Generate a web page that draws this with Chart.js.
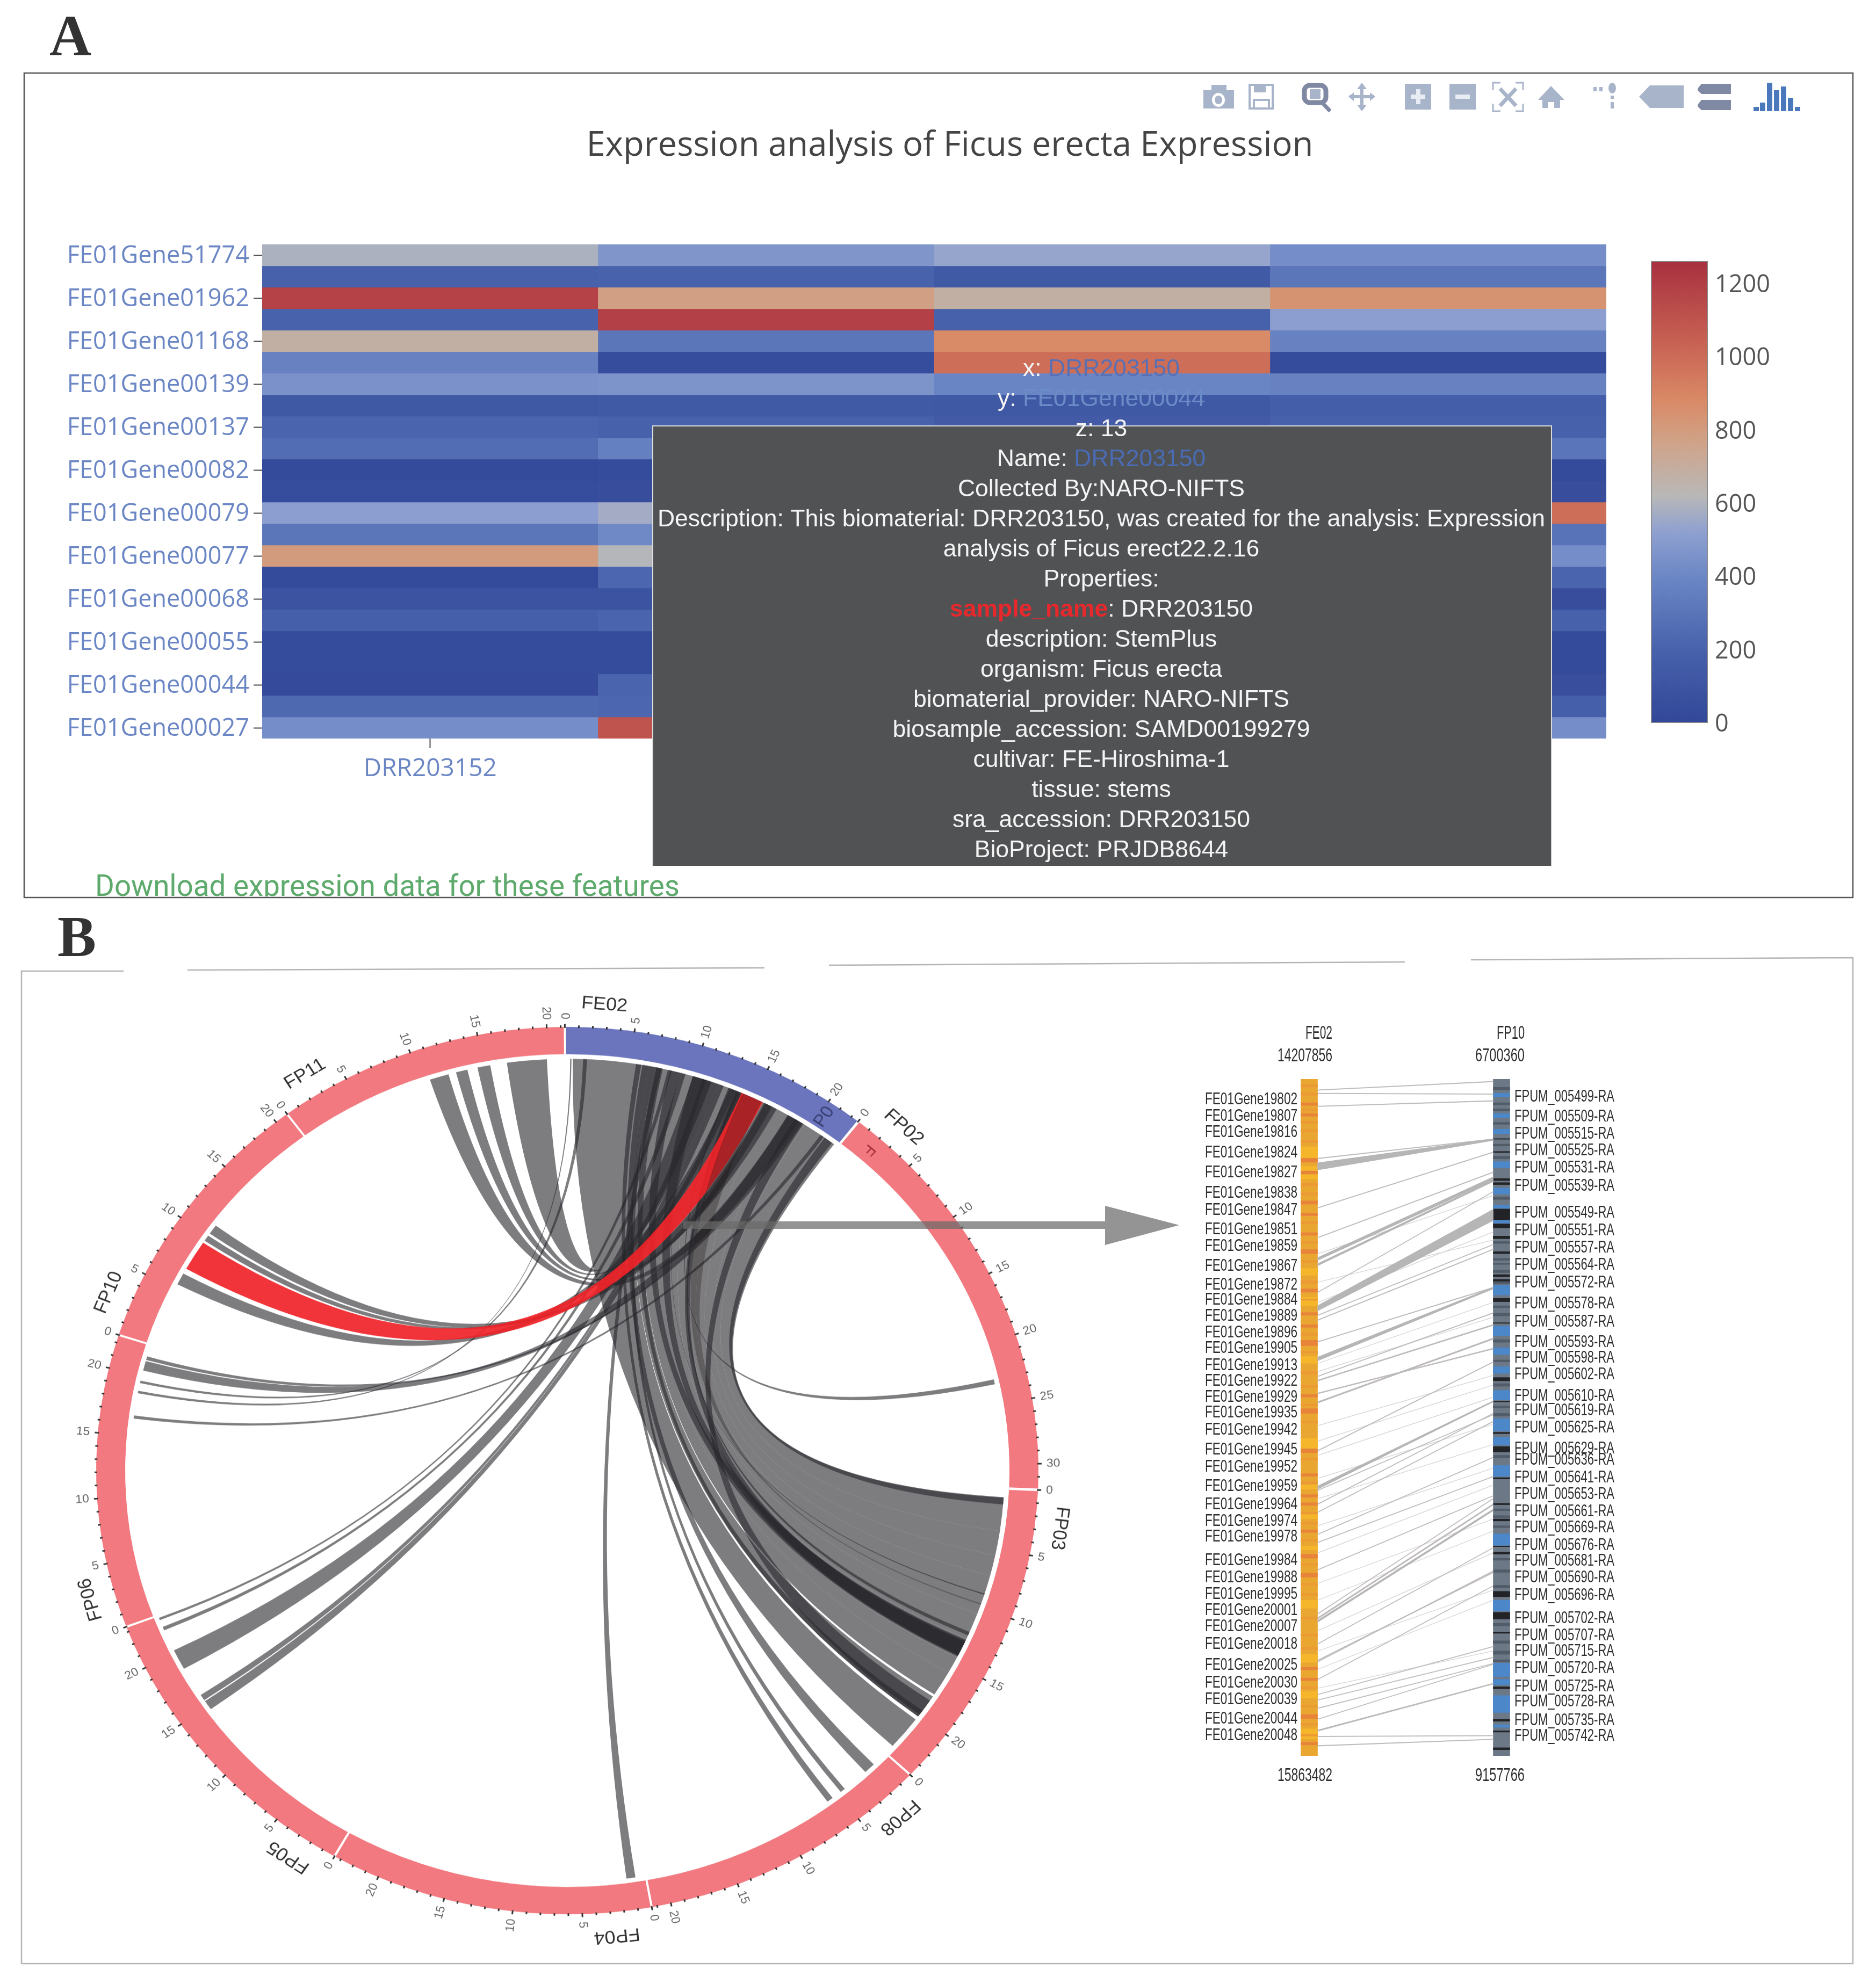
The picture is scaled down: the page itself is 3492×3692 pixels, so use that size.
<!DOCTYPE html>
<html><head><meta charset="utf-8">
<script src="https://cdn.jsdelivr.net/npm/chart.js@4/dist/chart.umd.min.js"></script>
<style>
html,body{margin:0;padding:0;background:#fff}
#page{position:relative;width:3492px;height:3692px;background:#fff;overflow:hidden}
canvas,svg{position:absolute}
.let{position:absolute;font:bold 108px "Liberation Serif";color:#333;line-height:1}
</style></head><body><div id="page">
<div class="let" style="left:92px;top:13px">A</div>
<div class="let" style="left:107px;top:1690px">B</div>
<canvas id="heat" width="3492" height="1700" style="left:0;top:0"></canvas>
<canvas id="cbar" width="460" height="960" style="left:2988px;top:440px"></canvas>
<canvas id="circos" width="2100" height="2100" style="left:6px;top:1688px;transform:scaleY(0.942);transform-origin:center"></canvas>
<canvas id="syn" width="1000" height="1480" style="left:2100px;top:1880px"></canvas>
<svg width="3492" height="3692" style="left:0;top:0;pointer-events:none">
<g stroke="#b4b4b4" stroke-width="2.5" fill="none">
<path d="M40 3656V1808H230"/><path d="M349 1806L1423 1802"/><path d="M1543 1797L2615 1791"/><path d="M2738 1787L3449 1783V3656H40"/></g>
<rect x="1272" y="2274" width="785" height="14" fill="rgb(105,105,105)" fill-opacity="0.72"/>
<polygon points="2057,2245 2195,2281 2057,2318" fill="#949494"/></svg>
</div>
<script>
/* ---------- Panel A : heat map ---------- */
const sampleNames=['DRR203152','DRR203151','DRR203150','DRR203149'];
const geneLabels=['FE01Gene51774','FE01Gene01962','FE01Gene01168','FE01Gene00139','FE01Gene00137','FE01Gene00082','FE01Gene00079','FE01Gene00077','FE01Gene00068','FE01Gene00055','FE01Gene00044','FE01Gene00027'];
const exprDRR203152=[590,190,1180,200,680,370,450,130,210,260,20,40,510,310,800,20,90,180,30,30,25,240,430];
const exprDRR203151=[470,200,780,1190,310,40,460,140,190,360,30,50,570,410,610,220,90,210,30,30,210,220,1100];
const exprDRR203150=[540,140,680,190,880,990,390,130,150,200,40,60,500,300,600,220,100,200,40,30,13,200,900];
const exprDRR203149=[430,310,840,510,370,30,370,170,190,300,20,50,990,290,430,210,50,190,20,20,60,180,430];
const colorStopsV=[0,200,400,520,620,760,880,1030,1262];
const colorStopsC=[[50,71,152],[72,98,172],[108,135,197],[142,160,208],[184,184,184],[207,164,138],[217,138,102],[201,100,84],[168,48,63]];
const colorbarTicks=[0,200,400,600,800,1000,1200];
const tooltipLines=['Collected By:NARO-NIFTS','Description: This biomaterial: DRR203150, was created for the analysis: Expression','analysis of Ficus erect22.2.16','Properties:'];
const tooltipProps=['description: StemPlus','organism: Ficus erecta','biomaterial_provider: NARO-NIFTS','biosample_accession: SAMD00199279','cultivar: FE-Hiroshima-1','tissue: stems','sra_accession: DRR203150','BioProject: PRJDB8644'];
function rgb(a){return 'rgb('+a.map(v=>Math.round(v)).join(',')+')'}
function heatColor(v){
  for(let i=1;i<colorStopsV.length;i++){ if(v<=colorStopsV[i]){const f=(v-colorStopsV[i-1])/(colorStopsV[i]-colorStopsV[i-1]);
    return rgb(colorStopsC[i].map((c,k)=>colorStopsC[i-1][k]+(c-colorStopsC[i-1][k])*f));}}
  return rgb(colorStopsC[colorStopsC.length-1]);
}
const sansF='"Open Sans"';
function segText(ctx,segs,cx,y,font){
  ctx.font=font;ctx.textAlign='left';ctx.textBaseline='middle';
  let w=0;segs.forEach(s=>w+=ctx.measureText(s[0]).width);let x=cx-w/2;
  segs.forEach(s=>{ctx.fillStyle=s[1];ctx.fillText(s[0],x,y);x+=ctx.measureText(s[0]).width;});
}
function icons(ctx){
  const c='#a8b4ca',d='#7f89a4';
  ctx.save();
  const R=(x,y,w,h,col)=>{ctx.fillStyle=col||c;ctx.fillRect(x,y,w,h)};
  R(2240,168,57,34);R(2255,158,28,12);ctx.fillStyle='#fff';ctx.beginPath();ctx.ellipse(2268,186,12,13,0,0,7);ctx.fill();ctx.fillStyle=c;ctx.beginPath();ctx.ellipse(2268,186,7,8,0,0,7);ctx.fill();
  ctx.strokeStyle=c;ctx.lineWidth=4;ctx.strokeRect(2326,158,43,44);R(2334,158,22,14);ctx.strokeRect(2334,186,28,16);
  ctx.strokeStyle=d;ctx.lineWidth=9;ctx.beginPath();ctx.roundRect(2428,159,40,32,10);ctx.stroke();R(2438,166,20,18,c);ctx.lineWidth=7;ctx.beginPath();ctx.moveTo(2462,192);ctx.lineTo(2476,207);ctx.stroke();
  ctx.strokeStyle=c;ctx.lineWidth=6;ctx.beginPath();ctx.moveTo(2535,158);ctx.lineTo(2535,204);ctx.moveTo(2512,180);ctx.lineTo(2558,180);ctx.stroke();
  ctx.fillStyle=c;[[2535,154,2526,166,2544,166],[2535,207,2526,195,2544,195],[2510,180,2520,172,2520,188],[2560,180,2550,172,2550,188]].forEach(p=>{ctx.beginPath();ctx.moveTo(p[0],p[1]);ctx.lineTo(p[2],p[3]);ctx.lineTo(p[4],p[5]);ctx.fill();});
  R(2615,156,49,48);R(2626,176,27,8,'#e8ecf3');R(2636,166,8,28,'#e8ecf3');
  R(2698,156,49,48);R(2709,176,27,8,'#e8ecf3');
  ctx.strokeStyle=c;ctx.lineWidth=3;[[2779,154,1,1],[2835,154,-1,1],[2779,207,1,-1],[2835,207,-1,-1]].forEach(p=>{ctx.beginPath();ctx.moveTo(p[0],p[1]+p[3]*14);ctx.lineTo(p[0],p[1]);ctx.lineTo(p[0]+p[2]*14,p[1]);ctx.stroke();});
  ctx.lineWidth=7;ctx.beginPath();ctx.moveTo(2792,165);ctx.lineTo(2822,197);ctx.moveTo(2822,165);ctx.lineTo(2792,197);ctx.stroke();
  ctx.fillStyle=c;ctx.beginPath();ctx.moveTo(2887,160);ctx.lineTo(2912,186);ctx.lineTo(2904,186);ctx.lineTo(2904,201);ctx.lineTo(2893,201);ctx.lineTo(2893,190);ctx.lineTo(2881,190);ctx.lineTo(2881,201);ctx.lineTo(2871,201);ctx.lineTo(2871,186);ctx.lineTo(2863,186);ctx.closePath();ctx.fill();
  R(2966,162,6,8);R(2977,162,6,8);ctx.beginPath();ctx.ellipse(3001,164,7,10,0,0,7);ctx.fill();R(2998,178,6,6);R(2998,190,6,12);
  ctx.beginPath();ctx.moveTo(3051,180);ctx.lineTo(3071,159);ctx.lineTo(3134,159);ctx.lineTo(3134,201);ctx.lineTo(3071,201);ctx.closePath();ctx.fill();
  ctx.fillStyle=d;[156,186].forEach(y=>{ctx.beginPath();ctx.moveTo(3160,y+9);ctx.lineTo(3167,y);ctx.lineTo(3222,y);ctx.lineTo(3222,y+19);ctx.lineTo(3167,y+19);ctx.lineTo(3160,y+12);ctx.closePath();ctx.fill();});
  const logo=[[3264,199],[3276,191],[3289,154],[3302,168],[3315,161],[3328,182],[3341,199]];
  ctx.fillStyle='#4a78bd';logo.forEach(l=>ctx.fillRect(l[0],l[1],10,207-l[1]));
  ctx.restore();
}
const panelA={id:'panelA',afterDraw(ch){
  const ctx=ch.ctx;ctx.save();
  ctx.font='63.4px '+sansF;ctx.textAlign='center';ctx.textBaseline='middle';
  ctx.fillStyle='#444';ctx.fillText('Expression analysis of Ficus erecta Expression',1768,272);
  icons(ctx);
  const fs='44.5px "Liberation Sans"',fb='bold 44.5px "Liberation Sans"',blue='#4a6cb4',w='#f4f4f4';
  ctx.fillStyle='#515254';ctx.fillRect(1215,793,1673,819);
  ctx.strokeStyle='#d8dbe0';ctx.lineWidth=2;ctx.beginPath();ctx.moveTo(1215,1612);ctx.lineTo(1215,793);ctx.lineTo(2888,793);ctx.lineTo(2888,1612);ctx.stroke();
  const cx=2050,dy=56;let y=688;
  segText(ctx,[['x: ',w],[sampleNames[2],'#5a70b4']],cx,y,fs);y+=dy;
  segText(ctx,[['y: ',w],[geneLabels[10],'#6c8cc8']],cx,y,fs);y+=dy;
  segText(ctx,[['z: 13',w]],cx,y,fs);y+=dy;
  segText(ctx,[['Name: ',w],[sampleNames[2],blue]],cx,y,fs);y+=dy;
  tooltipLines.forEach(t=>{segText(ctx,[[t,w]],cx,y,fs);y+=dy;});
  ctx.font=fb;const bw=ctx.measureText('sample_name').width;ctx.font=fs;const rw=ctx.measureText(': DRR203150').width;
  let sx=cx-(bw+rw)/2;ctx.textAlign='left';ctx.font=fb;ctx.fillStyle='#e8282c';ctx.fillText('sample_name',sx,y);ctx.font=fs;ctx.fillStyle=w;ctx.fillText(': DRR203150',sx+bw,y);y+=dy;
  tooltipProps.forEach(t=>{segText(ctx,[[t,w]],cx,y,fs);y+=dy;});
  ctx.save();ctx.beginPath();ctx.rect(46,1600,3400,69);ctx.clip();
  ctx.fillStyle='#5eaa6c';ctx.font='54.7px Roboto';ctx.textAlign='left';ctx.textBaseline='middle';ctx.fillText('Download expression data for these features',177,1654);ctx.restore();
  ctx.strokeStyle='#555';ctx.lineWidth=2.5;ctx.strokeRect(45,136,3404,1535);
  ctx.restore();
}};
const rowCount=exprDRR203152.length;
const heatSets=[];
for(let r=0;r<rowCount;r++){
  heatSets.push({data:[1,1,1,1],backgroundColor:[exprDRR203152,exprDRR203151,exprDRR203150,exprDRR203149].map(c=>heatColor(c[r])),borderWidth:0,barPercentage:1,categoryPercentage:1});
}
new Chart(document.getElementById('heat'),{type:'bar',plugins:[panelA],
 data:{labels:sampleNames,datasets:heatSets},
 options:{responsive:false,animation:false,devicePixelRatio:1,
  layout:{padding:{top:455,right:502,left:0,bottom:0}},
  plugins:{legend:{display:false},tooltip:{enabled:false}},
  scales:{
   x:{stacked:true,afterFit:s=>{s.height=325},grid:{display:true,offset:false,drawOnChartArea:false,tickLength:18,tickColor:'#444',tickWidth:2},border:{display:false},
      ticks:{color:'#6b86c4',font:{family:'Open Sans',size:46},padding:11,maxRotation:0}},
   y:{stacked:true,reverse:true,min:0,max:rowCount,afterFit:s=>{s.width=488},
      afterBuildTicks:s=>{s.ticks=geneLabels.map((g,i)=>({value:i*2+0.5}))},
      grid:{display:true,drawOnChartArea:false,tickLength:16,tickColor:'#444',tickWidth:2},border:{display:false},
      ticks:{autoSkip:false,color:'#6b86c4',font:{family:'Open Sans',size:45},padding:8,labelOffset:2,callback:v=>geneLabels[(v-0.5)/2]}}
  }}});
/* ---------- colour bar ---------- */
new Chart(document.getElementById('cbar'),{type:'bar',
 data:{labels:['z'],datasets:[{data:[1262],barPercentage:1,categoryPercentage:1,borderWidth:2,borderColor:'#8a8a8a',borderSkipped:false,
   backgroundColor:c=>{const a=c.chart.chartArea;if(!a)return '#888';const g=c.chart.ctx.createLinearGradient(0,a.bottom,0,a.top);colorStopsV.forEach((v,i)=>g.addColorStop(v/1262,rgb(colorStopsC[i])));return g;}}]},
 options:{responsive:false,animation:false,devicePixelRatio:1,
  layout:{padding:{left:85,top:46,bottom:54,right:0}},
  plugins:{legend:{display:false},tooltip:{enabled:false}},
  scales:{x:{display:false},
   y:{position:'right',min:0,max:1262,afterFit:s=>{s.width=269},afterBuildTicks:s=>{s.ticks=colorbarTicks.map(v=>({value:v}))},
      grid:{display:false},border:{display:false},ticks:{color:'#555',font:{family:'Open Sans',size:45},padding:5,labelOffset:3,autoSkip:false,callback:v=>String(v)}}}}});
/* ---------- Panel B : circos ---------- */
const sectorNames=['FE02','FP02','FP03','FP08','FP04','FP05','FP06','FP10','FP11'];
const sectorSizes=[22.6,32,24,21.4,23.5,23.4,22.6,21,21.3];
const sectorTicks=[20,30,20,20,20,20,20,20,20];
const sectorColors=['#6a75bd','#f1797f','#f1797f','#f1797f','#f1797f','#f1797f','#f1797f','#f1797f','#f1797f'];
/* each link: target start, target end, FE02 start, FE02 end (Mb) */
const fp03Links=[[0.7,3.5,19.5,22.3],[0.75,1.3,21.4,22.1],[3.5,5.5,18,19.5],[5.5,7.2,16.5,18],[7.2,8.85,15,16.5],[8.75,8.85,11,11.05],[8.85,10.5,13.5,15],[10.5,12.7,12.2,13.5],[12.1,12.4,13.6,13.8],[12.7,14.4,11,12.2],[12.9,14.2,10,11],[12.8,14.3,8.2,9],[13,14.2,13.5,14.2],[14.4,15.8,9,11],[15.8,17.9,7.5,9],[18.1,20.1,6.5,7.5],[18.5,19.9,18.6,19.4],[19.5,20.1,7,7.6],[20.4,23.2,0.6,6.5]];
const fp02Links=[[23,23.4,12.9,13]];
const fp08Links=[[1.3,2.2,6,6.6],[4.3,4.7,6.6,7],[5.5,6,5.5,5.9]];
const fp04Links=[[0.8,1.5,7.1,7.5]];
const fp05Links=[[14.7,15.5,12,12.5],[15.6,16.1,11.7,12],[18.6,20.3,10,11.5],[22.1,22.4,9,9.4],[23,23.2,8,8.3]];
const fp06Links=[[16.4,16.65,21,21.3],[18.5,18.7,0.4,0.5],[19.35,19.55,1.4,1.7],[20.4,21.2,18,19],[21.3,21.6,19,19.3]];
const fp10Links=[[5.35,6.35,13,14],[9.5,10,15.9,16.3],[10.2,11,16.3,17]];
const fp11Links=[[10.7,12.2,18,19],[12.8,13.7,16,16.6],[14.5,15.5,13,13.5],[16.8,19.9,10.8,11.7]];
const highlightedLink=[6.8,9.3,14,15.8]; /* FP10 to FE02, red */
const overRedLink=[9.6,9.7,14.1,15.7]; /* FP03 to FE02, crosses the red one */
const allLinks=[['FP03',fp03Links],['FP02',fp02Links],['FP08',fp08Links],['FP04',fp04Links],['FP05',fp05Links],['FP06',fp06Links],['FP10',fp10Links],['FP11',fp11Links]];
const circosPlugin={id:'circosPlugin',
 beforeDatasetsDraw(ch){
  const ctx=ch.ctx,meta=ch.getDatasetMeta(0),arcs=meta.data,a0=arcs[0],cx=a0.x,cy=a0.y,rr=a0.innerRadius-3;
  const ang=(name,mb)=>{const i=sectorNames.indexOf(name),a=arcs[i];return a.startAngle+(mb/sectorSizes[i])*(a.endAngle-a.startAngle)};
  const rib=(name,l,fill)=>{
    const s1=ang('FE02',l[2]),s2=ang('FE02',l[3]),t1=ang(name,l[0]),t2=ang(name,l[1]);
    ctx.beginPath();ctx.arc(cx,cy,rr,s1,s2);
    ctx.quadraticCurveTo(cx,cy,cx+rr*Math.cos(t1),cy+rr*Math.sin(t1));
    ctx.arc(cx,cy,rr,t1,t2);
    ctx.quadraticCurveTo(cx,cy,cx+rr*Math.cos(s1),cy+rr*Math.sin(s1));
    ctx.closePath();ctx.fillStyle=fill;ctx.fill();
  };
  ctx.save();
  allLinks.forEach(g=>g[1].forEach(l=>rib(g[0],l,'rgba(38,38,44,0.6)')));
  rib('FP10',highlightedLink,'rgba(240,35,40,0.92)');
  rib('FP03',overRedLink,'rgba(25,15,15,0.3)');
  ctx.restore();
 },
 afterDraw(ch){
  const ctx=ch.ctx,arcs=ch.getDatasetMeta(0).data,a0=arcs[0],cx=a0.x,cy=a0.y,R=a0.outerRadius;
  ctx.save();
  sectorNames.forEach((n,i)=>{
    const a=arcs[i],per=(a.endAngle-a.startAngle)/sectorSizes[i];
    for(let m=0;m<=sectorSizes[i];m++){
      const t=a.startAngle+m*per,c=Math.cos(t),s=Math.sin(t);
      ctx.strokeStyle='#333';ctx.lineWidth=3;ctx.beginPath();ctx.moveTo(cx+(R+4)*c,cy+(R+4)*s);ctx.lineTo(cx+(R+(m%5?9:12))*c,cy+(R+(m%5?9:12))*s);ctx.stroke();
      if(m%5===0&&m<=sectorTicks[i]){
        ctx.save();ctx.translate(cx+(R+21)*c,cy+(R+21)*s);
        const cw=t+Math.PI/2;
        const flip=((cw%(2*Math.PI))+2*Math.PI)%(2*Math.PI)>Math.PI;
        ctx.rotate(flip?t+Math.PI:t);
        ctx.fillStyle='#666';ctx.font='23px "Liberation Sans"';ctx.textAlign=flip?'right':'left';ctx.textBaseline='middle';
        ctx.fillText(String(m),0,0);ctx.restore();
      }
    }
    const t=a.startAngle+2.7*per;
    ctx.save();ctx.translate(cx+R*1.06*Math.cos(t),cy+R*1.06*Math.sin(t));ctx.rotate(t+Math.PI/2);
    ctx.fillStyle='#333';ctx.font='36px "Liberation Sans"';ctx.textAlign='center';ctx.textBaseline='middle';ctx.fillText(n,0,0);ctx.restore();
  });
  const t1=arcs[0].endAngle-2.2*(arcs[0].endAngle-arcs[0].startAngle)/sectorSizes[0];
  ctx.save();ctx.translate(cx+(R-24)*Math.cos(t1),cy+(R-24)*Math.sin(t1));ctx.rotate(t1);ctx.fillStyle='#3a3f70';ctx.font='34px "Liberation Sans"';ctx.textAlign='center';ctx.textBaseline='middle';ctx.fillText('P0',0,0);ctx.restore();
  const t2=arcs[1].startAngle+2*(arcs[1].endAngle-arcs[1].startAngle)/sectorSizes[1];
  ctx.save();ctx.translate(cx+(R-24)*Math.cos(t2),cy+(R-24)*Math.sin(t2));ctx.rotate(t2+Math.PI);ctx.fillStyle='#a8303c';ctx.font='30px "Liberation Sans"';ctx.textAlign='center';ctx.textBaseline='middle';ctx.fillText('F',0,0);ctx.restore();
  ctx.restore();
 }};
new Chart(document.getElementById('circos'),{type:'doughnut',plugins:[circosPlugin],
 data:{labels:sectorNames,datasets:[{data:sectorSizes,backgroundColor:sectorColors,borderWidth:0}]},
 options:{responsive:false,animation:false,devicePixelRatio:1,rotation:-0.3,cutout:'93.8%',spacing:12,
  layout:{padding:173},plugins:{legend:{display:false},tooltip:{enabled:false}}}});
/* ---------- Panel B : synteny tracks (position = per mille along each track) ---------- */
const trackNames=['FE02','FP10'];
const trackStartBp=['14207856','6700360'];
const trackEndBp=['15863482','9157766'];
const fe02Genes=['FE01Gene19802','FE01Gene19807','FE01Gene19816','FE01Gene19824','FE01Gene19827','FE01Gene19838','FE01Gene19847','FE01Gene19851','FE01Gene19859','FE01Gene19867','FE01Gene19872','FE01Gene19884','FE01Gene19889','FE01Gene19896','FE01Gene19905','FE01Gene19913','FE01Gene19922','FE01Gene19929','FE01Gene19935','FE01Gene19942','FE01Gene19945','FE01Gene19952','FE01Gene19959','FE01Gene19964','FE01Gene19974','FE01Gene19978','FE01Gene19984','FE01Gene19988','FE01Gene19995','FE01Gene20001','FE01Gene20007','FE01Gene20018','FE01Gene20025','FE01Gene20030','FE01Gene20039','FE01Gene20044','FE01Gene20048'];
const fe02GenePos=[30,55,79,109,138,168,194,222,247,276,304,326,350,375,398,423,446,470,493,518,548,573,602,629,653,676,711,737,761,785,809,835,866,892,917,945,970];
const fp10Genes=['FPUM_005499-RA','FPUM_005509-RA','FPUM_005515-RA','FPUM_005525-RA','FPUM_005531-RA','FPUM_005539-RA','FPUM_005549-RA','FPUM_005551-RA','FPUM_005557-RA','FPUM_005564-RA','FPUM_005572-RA','FPUM_005578-RA','FPUM_005587-RA','FPUM_005593-RA','FPUM_005598-RA','FPUM_005602-RA','FPUM_005610-RA','FPUM_005619-RA','FPUM_005625-RA','FPUM_005629-RA','FPUM_005636-RA','FPUM_005641-RA','FPUM_005653-RA','FPUM_005661-RA','FPUM_005669-RA','FPUM_005676-RA','FPUM_005681-RA','FPUM_005690-RA','FPUM_005696-RA','FPUM_005702-RA','FPUM_005707-RA','FPUM_005715-RA','FPUM_005720-RA','FPUM_005725-RA','FPUM_005728-RA','FPUM_005735-RA','FPUM_005742-RA'];
const fp10GenePos=[26,56,81,106,131,158,198,224,249,275,301,332,359,389,412,437,468,490,515,546,563,589,614,639,663,689,712,737,763,797,822,845,871,898,920,948,971];
const fe02DarkStripes=[[35,39],[51,55],[117,123],[136,140],[180,185],[198,202],[227,231],[252,258],[310,315],[345,349],[363,367],[386,394],[466,470],[487,494],[547,552],[583,587],[614,618],[626,630],[666,670],[702,708],[730,736],[869,873],[885,889],[939,945],[980,984]];
const fe02LightStripes=[[100,119],[129,135],[142,148],[280,290],[322,335],[410,420],[531,545],[600,606],[640,650],[690,696],[770,782],[850,862],[905,915],[960,975]];
const fe02MidStripes=[[8,12],[20,24],[44,47],[62,66],[75,78],[90,94],[154,158],[168,172],[210,214],[240,243],[268,271],[298,302],[325,327],[375,379],[402,405],[432,436],[452,456],[480,483],[505,508],[560,563],[595,598],[640,643],[655,658],[680,683],[716,719],[745,748],[760,763],[795,798],[820,823],[840,843],[898,901],[925,928],[952,955],[968,971]];
const fp10BlueStripes=[[21,26],[51,57],[74,81],[122,131],[161,170],[186,191],[209,213],[305,319],[365,379],[397,407],[425,435],[460,474],[502,520],[529,541],[571,587],[672,689],[770,786],[863,883],[887,895],[911,936],[954,958]];
const fp10BlackStripes=[[88,89],[107,108.5],[147,150],[153,156],[192,208],[214,220],[232,236],[255,258],[289,292],[296,299],[324,329],[360,361],[441,446],[476,477],[522,524],[543,551],[589,591],[627,629],[650,653],[690,691],[699,702],[757,765],[788,798],[817,819],[898,901],[946,949],[963,965],[988,991]];
const fp10GrayStripes=[[12,16],[35,38],[44,47],[64,67],[96,99],[114,118],[174,178],[240,243],[265,268],[272,274],[282,286],[300,303],[335,338],[346,350],[385,389],[415,418],[450,454],[483,486],[494,498],[556,560],[635,638],[645,648],[660,663],[708,711],[725,729],[748,752],[804,808],[830,834],[845,850],[858,861]];
/* each link: FE02 start, FE02 end, FP10 start, FP10 end */
const synLinks=[[16,16.5,3.5,4],[21,21.5,22,22.5],[40,40.5,32,32.5],[117,117.5,88.5,89],[124,134,88.5,90.5],[190,190.4,108,108.4],[234,234.5,137.5,138],[264,267.5,145,149],[273,275.5,149.5,151.5],[315,315.3,166.5,166.8],[335,342,193,209],[349,349.3,244.5,244.8],[356,356.4,251.5,251.9],[388,388.4,308,308.5],[411,416,308,310],[439,439.5,345.5,346],[445,446,363,364],[464,465,398,399],[477,478.5,383,384.5],[549,549.5,418,418.5],[601.5,605.5,476,477],[607.5,607.8,496,496.3],[628,628.3,494,494.3],[640,640.3,506,506.3],[672.5,672.8,559,559.3],[684.5,684.8,587.4,587.7],[725,725.3,615.7,616],[790,790.3,620,620.3],[796,797.5,628,629.5],[800,802,636,638],[834.4,834.8,692.6,693],[858.7,859.2,729,729.5],[860.7,861.2,727,727.5],[887,887.3,749,749.3],[909.3,909.6,838.5,838.8],[917.4,917.7,854.6,854.9],[929.6,929.9,863.6,863.9],[945.8,946.1,864.8,865.1],[962,963.5,893,894],[971.3,971.7,970,970.4],[985,985.5,975.4,975.8]];
const faintLinks=[[258,258.2,172,172.2],[300,300.2,238,238.2],[330,330.2,226,226.2],[420,420.2,330,330.2],[432,432.2,352,352.2],[512,512.2,438,438.2],[535,535.2,452,452.2],[556,556.2,470,470.2],[590,590.2,510,510.2],[620,620.2,540,540.2],[660,660.2,575,575.2],[700,700.2,600,600.2],[745,745.2,650,650.2],[770,770.2,668,668.2],[815,815.2,700,700.2],[845,845.2,755,755.2],[872,872.2,770,770.2],[900,900.2,845,845.2]];
const stripe=(arr,idx,col)=>arr.map(s=>({data:idx===0?[s,null]:[null,s],backgroundColor:col,grouped:false,barThickness:31,borderWidth:0}));
const synSets=[
 {data:[[0,1000],null],backgroundColor:'#e9a631',grouped:false,barThickness:31,borderWidth:0,order:9},
 {data:[null,[0,1000]],backgroundColor:'#6c7886',grouped:false,barThickness:31,borderWidth:0,order:9},
 ...stripe(fe02MidStripes,0,'#eb9a34'),...stripe(fe02DarkStripes,0,'#e8843a'),...stripe(fe02LightStripes,0,'#f5b62c'),
 ...stripe(fp10GrayStripes,1,'#525c68'),...stripe(fp10BlueStripes,1,'#4b87c9'),...stripe(fp10BlackStripes,1,'#222326')];
const synPlugin={id:'synPlugin',afterDraw(ch){
  const ctx=ch.ctx,x=ch.scales.x,y=ch.scales.y,xa=x.getPixelForValue(0)+16,xb=x.getPixelForValue(1)-16;
  ctx.save();
  const link=(l,fill,stroke,lw)=>{
    ctx.beginPath();ctx.moveTo(xa,y.getPixelForValue(l[0]));ctx.lineTo(xb,y.getPixelForValue(l[2]));ctx.lineTo(xb,y.getPixelForValue(l[3]));ctx.lineTo(xa,y.getPixelForValue(l[1]));ctx.closePath();
    ctx.fillStyle=fill;ctx.fill();ctx.strokeStyle=stroke;ctx.lineWidth=lw;ctx.stroke();
  };
  faintLinks.forEach(l=>link(l,'#ddd','rgba(215,212,212,0.9)',1.2));
  synLinks.forEach(l=>link(l,'#b6b6b6',(l[1]-l[0])<2?'rgba(190,185,185,0.9)':'#b6b6b6',1.5));
  const tx=(t,px,py,ta,mw,size)=>{ctx.font=size+'px "Liberation Sans"';ctx.fillStyle='#2e2e2e';ctx.textAlign=ta;ctx.textBaseline='middle';ctx.fillText(t,px,py,mw);};
  const yTop=y.getPixelForValue(0),yBot=y.getPixelForValue(1000);
  const lx=x.getPixelForValue(0),rx=x.getPixelForValue(1);
  fe02Genes.forEach((g,i)=>tx(g,lx-22,y.getPixelForValue(fe02GenePos[i]),'right',172,32));
  fp10Genes.forEach((g,i)=>tx(g,rx+24,y.getPixelForValue(fp10GenePos[i]),'left',186,32));
  tx(trackNames[0],lx+43,yTop-85,'right',50,35);tx(trackStartBp[0],lx+43,yTop-43,'right',102,35);tx(trackEndBp[0],lx+43,yBot+37,'right',102,35);
  tx(trackNames[1],rx+43,yTop-85,'right',52,35);tx(trackStartBp[1],rx+43,yTop-43,'right',92,35);tx(trackEndBp[1],rx+43,yBot+37,'right',92,35);
  ctx.restore();
}};
new Chart(document.getElementById('syn'),{type:'bar',plugins:[synPlugin],
 data:{labels:trackNames,datasets:synSets},
 options:{responsive:false,animation:false,devicePixelRatio:1,
  layout:{padding:{left:158,right:126,top:129,bottom:91}},
  plugins:{legend:{display:false},tooltip:{enabled:false}},
  scales:{x:{display:false},y:{display:false,reverse:true,min:0,max:1000}}}});
</script></body></html>
